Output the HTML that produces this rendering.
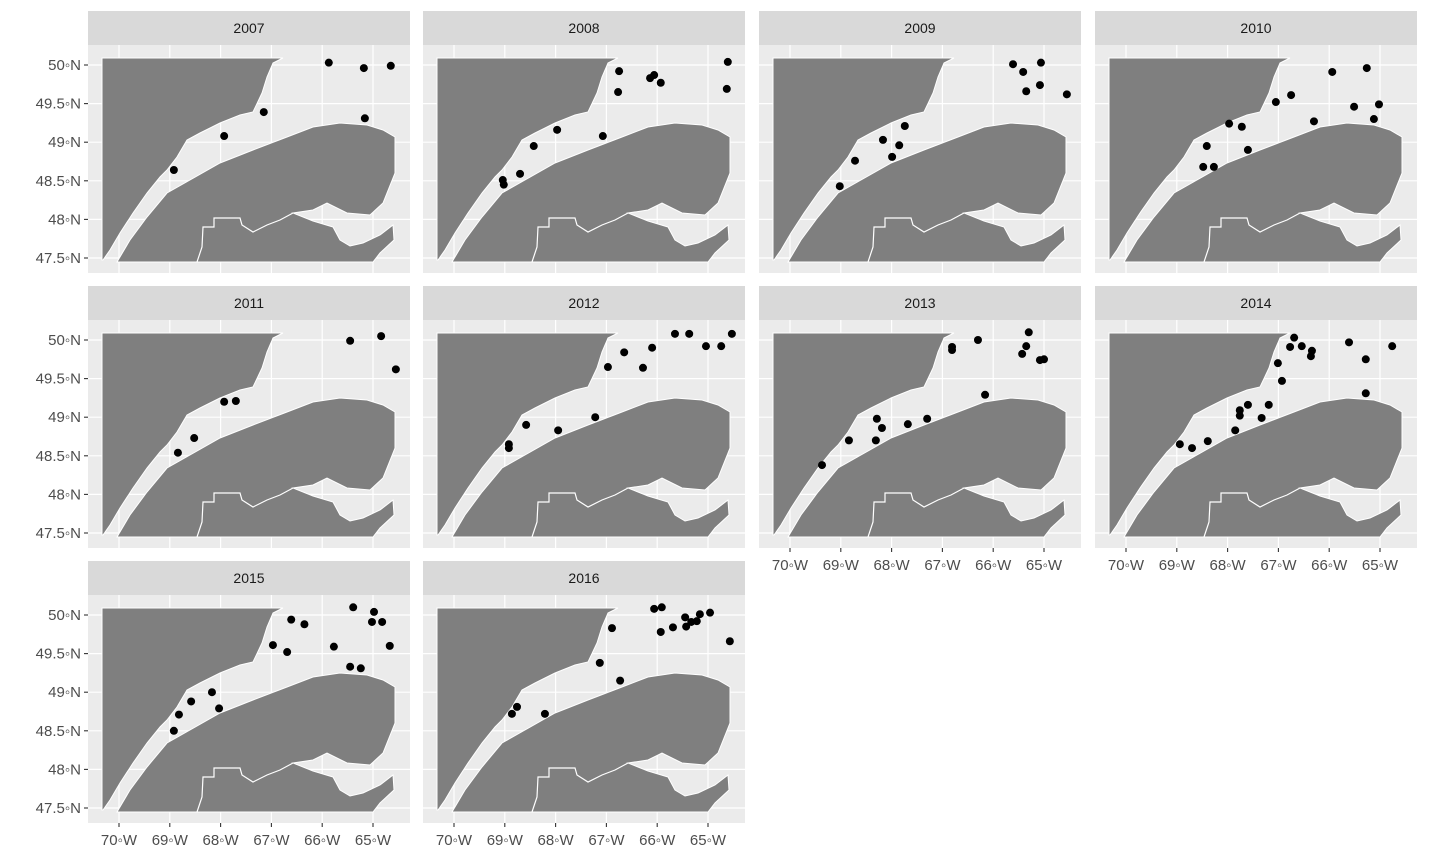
<!DOCTYPE html>
<html><head><meta charset="utf-8"><style>
html,body{margin:0;padding:0;background:#fff;}
svg{display:block;font-family:"Liberation Sans","DejaVu Sans",sans-serif;}
</style></head><body>
<svg id="chart" width="1440" height="864" viewBox="0 0 1440 864" xmlns="http://www.w3.org/2000/svg"></svg>
<script>
const years = ["2007","2008","2009","2010","2011","2012","2013","2014","2015","2016"];
const lonTicks = [-70,-69,-68,-67,-66,-65];
const latTicks = [50,49.5,49,48.5,48,47.5];
const lonTickLabels = ["70◦W","69◦W","68◦W","67◦W","66◦W","65◦W"];
const latTickLabels = ["50◦N","49.5◦N","49◦N","48.5◦N","48◦N","47.5◦N"];
const lon2007=[-68.92,-67.93,-67.15,-65.87,-65.18,-64.65,-65.16];
const lat2007=[48.64,49.08,49.39,50.03,49.96,49.99,49.31];
const lon2008=[-66.75,-66.77,-66.14,-66.06,-65.93,-64.61,-64.63,-67.07,-67.97,-68.43,-68.70,-69.04,-69.02];
const lat2008=[49.92,49.65,49.83,49.87,49.77,50.04,49.69,49.08,49.16,48.95,48.59,48.51,48.45];
const lon2009=[-65.61,-65.41,-65.06,-65.35,-65.08,-64.55,-67.74,-68.17,-67.85,-67.99,-68.72,-69.02];
const lat2009=[50.01,49.91,50.03,49.66,49.74,49.62,49.21,49.03,48.96,48.81,48.76,48.43];
const lon2010=[-65.94,-65.26,-65.02,-65.51,-65.12,-66.30,-66.75,-67.05,-67.97,-67.72,-68.41,-67.60,-68.48,-68.27];
const lat2010=[49.91,49.96,49.49,49.46,49.30,49.27,49.61,49.52,49.24,49.20,48.95,48.90,48.68,48.68];
const lon2011=[-65.45,-64.84,-64.55,-67.70,-67.93,-68.52,-68.84];
const lat2011=[49.99,50.05,49.62,49.21,49.20,48.73,48.54];
const lon2012=[-65.65,-65.37,-64.53,-65.04,-64.74,-66.10,-66.65,-66.28,-66.97,-67.22,-68.58,-67.95,-68.92,-68.92];
const lat2012=[50.08,50.08,50.08,49.92,49.92,49.90,49.84,49.64,49.65,49.00,48.90,48.83,48.65,48.60];
const lon2013=[-65.30,-65.35,-65.43,-65.08,-65.00,-66.30,-66.81,-66.81,-66.16,-67.30,-67.68,-68.29,-68.19,-68.84,-68.31,-69.37];
const lat2013=[50.10,49.92,49.82,49.74,49.75,50.00,49.91,49.87,49.29,48.98,48.91,48.98,48.86,48.70,48.70,48.38];
const lon2014=[-66.69,-66.77,-66.54,-66.34,-66.36,-65.61,-64.76,-65.28,-67.01,-66.93,-65.28,-67.19,-67.60,-67.76,-67.76,-67.33,-67.85,-68.94,-68.70,-68.39];
const lat2014=[50.03,49.91,49.92,49.86,49.79,49.97,49.92,49.75,49.70,49.47,49.31,49.16,49.16,49.09,49.02,48.99,48.83,48.65,48.60,48.69];
const lon2015=[-65.39,-64.98,-65.02,-64.82,-66.61,-66.35,-66.97,-66.69,-65.77,-64.67,-65.45,-65.24,-68.17,-68.03,-68.58,-68.82,-68.92];
const lat2015=[50.10,50.04,49.91,49.91,49.94,49.88,49.61,49.52,49.59,49.60,49.33,49.31,49.00,48.79,48.88,48.71,48.50];
const lon2016=[-66.06,-65.91,-65.69,-65.45,-65.33,-65.22,-65.16,-64.96,-65.43,-65.93,-66.89,-67.13,-66.73,-68.76,-68.86,-68.21,-64.57];
const lat2016=[50.08,50.10,49.84,49.97,49.91,49.92,50.01,50.03,49.85,49.78,49.83,49.38,49.15,48.81,48.72,48.72,49.66];
const lonData={"2007":lon2007,"2008":lon2008,"2009":lon2009,"2010":lon2010,"2011":lon2011,"2012":lon2012,"2013":lon2013,"2014":lon2014,"2015":lon2015,"2016":lon2016};
const latData={"2007":lat2007,"2008":lat2008,"2009":lat2009,"2010":lat2010,"2011":lat2011,"2012":lat2012,"2013":lat2013,"2014":lat2014,"2015":lat2015,"2016":lat2016};

const NS="http://www.w3.org/2000/svg";
const svg=document.getElementById('chart');
function mk(tag,attrs,parent){const e=document.createElementNS(NS,tag);for(const k in attrs)e.setAttribute(k,attrs[k]);(parent||svg).appendChild(e);return e;}
const colX=[88,423,759,1095], rowY=[45,320,595], PW=322, PH=228, SH=34;
const xs=lon=>31+(lon+70)*50.8;
const ys=lat=>20+(50-lat)*77.2;
const north="14,13 195,13 185,18 179,32 174,48 165,67 152,70 132,78 112,88 99,95 89,112 79,125 72,132 59,148 45,168 32,188 22,205 15,215 14,215";
const south="29,217 42,195 59,172 79,148 102,135 132,118 165,105 199,92 225,82 252,78 279,80 295,85 307,92 307,128 295,158 282,170 259,168 239,158 225,165 205,168 225,176 245,182 252,195 262,201 275,198 292,190 305,180 306,195 292,208 285,217";
const border="109,217 114,202 115,182 126,182 126,173 152,173 154,180 165,187 179,180 192,175 205,168";
const defs=mk('defs',{});
years.forEach((yr,i)=>{
  const c=i%4, r=Math.floor(i/4), x0=colX[c], y0=rowY[r];
  const strip=mk('g',{transform:`translate(${x0},${y0-SH})`});
  
  
  mk('rect',{x:0,y:0,width:PW,height:SH,fill:'#D9D9D9'},strip);
  const st=mk('text',{x:PW/2,y:22,'text-anchor':'middle','font-size':14,fill:'#1A1A1A'},strip);
  st.textContent=yr;
  const cp=mk('clipPath',{id:'cp'+yr},defs);
  mk('rect',{x:0,y:0,width:PW,height:PH},cp);
  const p=mk('g',{transform:`translate(${x0},${y0})`});
  
  
  mk('rect',{x:0,y:0,width:PW,height:PH,fill:'#EBEBEB'},p);
  const inner=mk('g',{'clip-path':`url(#cp${yr})`},p);
  lonTicks.forEach(v=>{const l=mk('line',{x1:xs(v),x2:xs(v),y1:0,y2:PH,stroke:'#fff','stroke-width':1.2},inner);});
  latTicks.forEach(v=>{const l=mk('line',{x1:0,x2:PW,y1:ys(v),y2:ys(v),stroke:'#fff','stroke-width':1.2},inner);});
  const n=mk('polygon',{points:north,fill:'#7F7F7F',stroke:'#fff','stroke-width':1},inner);
  
  
  const s=mk('polygon',{points:south,fill:'#7F7F7F',stroke:'#fff','stroke-width':1},inner);
  
  
  const b=mk('polyline',{points:border,fill:'none',stroke:'#fff','stroke-width':1.2},inner);
  
  
  const lo=lonData[yr], la=latData[yr];
  lo.forEach((v,k)=>{
    const d=mk('circle',{cx:xs(v),cy:ys(la[k]),r:4,fill:'#000'},inner);
    
    
  });
  if(c===0){
    latTicks.forEach((v,k)=>{
      mk('line',{x1:-4,x2:0,y1:ys(v),y2:ys(v),stroke:'#333','stroke-width':1.1},p);
      const t=mk('text',{x:-7,y:ys(v)+5,'text-anchor':'end','font-size':15,fill:'#4D4D4D'},p);
      
      
      t.textContent=latTickLabels[k];
    });
  }
  const bottom = (r===2) || (r===1 && c>=2);
  if(bottom){
    lonTicks.forEach((v,k)=>{
      mk('line',{x1:xs(v),x2:xs(v),y1:PH,y2:PH+4,stroke:'#333','stroke-width':1.1},p);
      const t=mk('text',{x:xs(v),y:PH+22,'text-anchor':'middle','font-size':15,fill:'#4D4D4D'},p);
      
      
      t.textContent=lonTickLabels[k];
    });
  }
});
</script>
</body></html>
